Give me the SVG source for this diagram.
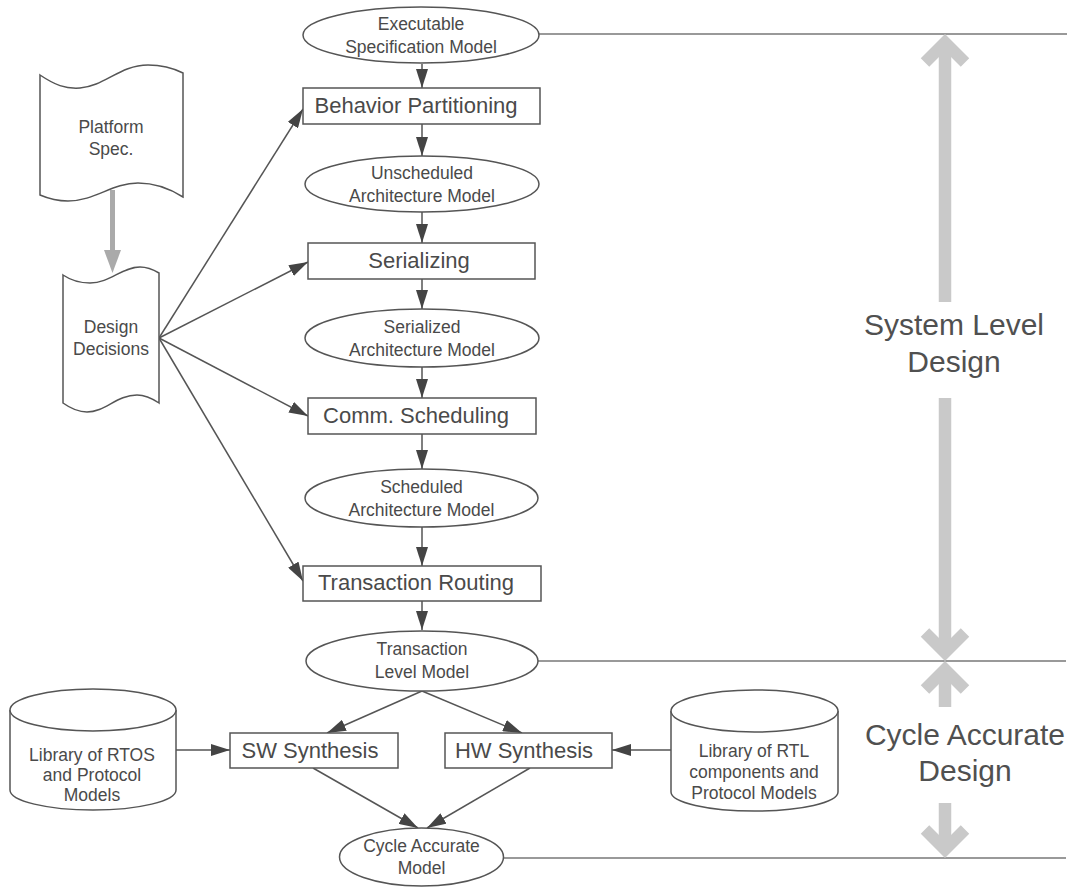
<svg xmlns="http://www.w3.org/2000/svg" width="1076" height="887" viewBox="0 0 1076 887">
  <defs>
    <marker id="ah" markerWidth="19" markerHeight="12" refX="19" refY="6" orient="auto" markerUnits="userSpaceOnUse">
      <path d="M0,0 L19,6 L0,12 z" fill="#444"/>
    </marker>
    <style>
      .shape { fill: #fff; stroke: #555; stroke-width: 1.5; }
      .conn { fill: none; stroke: #555; stroke-width: 1.5; marker-end: url(#ah); }
      .rule { fill: none; stroke: #777; stroke-width: 1.5; }
      .big { fill: none; stroke: #c9c9c9; stroke-width: 12.5; }
      .chev { fill: none; stroke: #c9c9c9; stroke-width: 12; stroke-linejoin: miter; stroke-miterlimit: 4; }
      text { font-family: "Liberation Sans", Arial, sans-serif; fill: #4a4a4a; text-anchor: middle; }
      .et { font-size: 17.5px; }
      .bt { font-size: 22px; }
      .lt { font-size: 30px; fill: #505050; }
    </style>
  </defs>
  <rect width="1076" height="887" fill="#fff"/>

  <!-- level boundary rules -->
  <g id="rules">
    <line class="rule" x1="539" y1="34" x2="1067" y2="34"/>
    <line class="rule" x1="538" y1="661" x2="1066" y2="661"/>
    <line class="rule" x1="503" y1="858" x2="1066" y2="858"/>
  </g>

  <!-- span arrows for the design levels -->
  <g id="span-arrows">
    <line class="big" x1="945" y1="46" x2="945" y2="302"/>
    <polyline class="chev" points="925,62.5 945,42.5 965,62.5"/>
    <line class="big" x1="945" y1="398" x2="945" y2="650"/>
    <polyline class="chev" points="925,632.5 945,652.5 965,632.5"/>
    <line class="big" x1="945" y1="672" x2="945" y2="707"/>
    <polyline class="chev" points="925,689.5 945,669.5 965,689.5"/>
    <line class="big" x1="945" y1="803" x2="945" y2="847"/>
    <polyline class="chev" points="925,829.5 945,849.5 965,829.5"/>
  </g>

  <g id="label-sld">
    <text class="lt" x="954" y="335">System Level</text>
    <text class="lt" x="954" y="372">Design</text>
  </g>
  <g id="label-cad">
    <text class="lt" x="965" y="745">Cycle Accurate</text>
    <text class="lt" x="965" y="781">Design</text>
  </g>

  <!-- connectors -->
  <g id="connectors">
    <line class="conn" x1="422" y1="64" x2="422" y2="88"/>
    <line class="conn" x1="422" y1="124" x2="422" y2="156"/>
    <line class="conn" x1="422" y1="212" x2="422" y2="243"/>
    <line class="conn" x1="422" y1="279" x2="422" y2="309"/>
    <line class="conn" x1="422" y1="367" x2="422" y2="398"/>
    <line class="conn" x1="422" y1="434" x2="422" y2="469"/>
    <line class="conn" x1="422" y1="527" x2="422" y2="566"/>
    <line class="conn" x1="422" y1="601" x2="422" y2="630"/>
    <line class="conn" x1="422" y1="691" x2="327" y2="733"/>
    <line class="conn" x1="422" y1="691" x2="522" y2="733"/>
    <line class="conn" x1="313" y1="768" x2="418" y2="828"/>
    <line class="conn" x1="530" y1="768" x2="427" y2="828"/>
    <line class="conn" x1="176" y1="750" x2="230" y2="750"/>
    <line class="conn" x1="671" y1="750" x2="612" y2="750"/>
    <line class="conn" x1="159" y1="338" x2="303" y2="109"/>
    <line class="conn" x1="159" y1="338" x2="308" y2="262"/>
    <line class="conn" x1="159" y1="338" x2="308" y2="416"/>
    <line class="conn" x1="159" y1="338" x2="303" y2="581"/>
    <!-- platform spec feeds design decisions -->
    <line x1="112.5" y1="190" x2="112.5" y2="252" stroke="#aaa" stroke-width="5"/>
    <path d="M104,250 L121,250 L112.5,273 z" fill="#aaa"/>
  </g>

  <g id="platform-spec">
    <path class="shape" d="M40,75 C55,85 65,89 80,88 C105,86 120,65 148,65 C165,65 175,69 183,73 L183,197 C172,190 158,183 138,183 C112,183 95,201 68,201 C55,201 47,198 40,195 Z"/>
    <text class="et" x="111" y="133">Platform</text>
    <text class="et" x="111" y="155">Spec.</text>
  </g>

  <g id="design-decisions">
    <path class="shape" d="M63,275 C72,281 80,283 90,283 C110,283 122,267 140,267 C148,267 154,270 159,273 L159,403 C153,399 146,395 137,395 C117,395 105,412 87,412 C77,412 70,408 63,403 Z"/>
    <text class="et" x="111" y="333">Design</text>
    <text class="et" x="111" y="355">Decisions</text>
  </g>

  <g id="exec-spec-model">
    <ellipse class="shape" cx="421" cy="35" rx="118" ry="28"/>
    <text class="et" x="421" y="30">Executable</text>
    <text class="et" x="421" y="53">Specification Model</text>
  </g>

  <g id="behavior-partitioning">
    <rect class="shape" x="303" y="88" width="237" height="36"/>
    <text class="bt" x="416" y="113">Behavior Partitioning</text>
  </g>

  <g id="unscheduled-model">
    <ellipse class="shape" cx="422" cy="184" rx="117" ry="28"/>
    <text class="et" x="422" y="179">Unscheduled</text>
    <text class="et" x="422" y="202">Architecture Model</text>
  </g>

  <g id="serializing">
    <rect class="shape" x="308" y="243" width="227" height="36"/>
    <text class="bt" x="419" y="268">Serializing</text>
  </g>

  <g id="serialized-model">
    <ellipse class="shape" cx="422" cy="338" rx="117" ry="29"/>
    <text class="et" x="422" y="333">Serialized</text>
    <text class="et" x="422" y="356">Architecture Model</text>
  </g>

  <g id="comm-scheduling">
    <rect class="shape" x="308" y="398" width="228" height="36"/>
    <text class="bt" x="416" y="423">Comm. Scheduling</text>
  </g>

  <g id="scheduled-model">
    <ellipse class="shape" cx="421.5" cy="498" rx="116.5" ry="29"/>
    <text class="et" x="421.5" y="493">Scheduled</text>
    <text class="et" x="421.5" y="516">Architecture Model</text>
  </g>

  <g id="transaction-routing">
    <rect class="shape" x="303" y="566" width="238" height="35"/>
    <text class="bt" x="416" y="590">Transaction Routing</text>
  </g>

  <g id="transaction-level-model">
    <ellipse class="shape" cx="422" cy="661" rx="116" ry="30"/>
    <text class="et" x="422" y="655">Transaction</text>
    <text class="et" x="422" y="678">Level Model</text>
  </g>

  <g id="rtos-library">
    <path class="shape" d="M10,710 L10,790 A83,20 0 0 0 176,790 L176,710"/>
    <ellipse class="shape" cx="93" cy="710" rx="83" ry="21"/>
    <text class="et" x="92" y="761">Library of RTOS</text>
    <text class="et" x="92" y="781">and Protocol</text>
    <text class="et" x="92" y="801">Models</text>
  </g>

  <g id="sw-synthesis">
    <rect class="shape" x="230" y="733" width="168" height="35"/>
    <text class="bt" x="310" y="758">SW Synthesis</text>
  </g>

  <g id="hw-synthesis">
    <rect class="shape" x="445" y="733" width="167" height="35"/>
    <text class="bt" x="524" y="758">HW Synthesis</text>
  </g>

  <g id="rtl-library">
    <path class="shape" d="M671,711 L671,792 A83.5,19 0 0 0 838,792 L838,711"/>
    <ellipse class="shape" cx="754.5" cy="711" rx="83.5" ry="21"/>
    <text class="et" x="754" y="757">Library of RTL</text>
    <text class="et" x="754" y="778">components and</text>
    <text class="et" x="754" y="799">Protocol Models</text>
  </g>

  <g id="cycle-accurate-model">
    <ellipse class="shape" cx="421.5" cy="857" rx="82" ry="29"/>
    <text class="et" x="421.5" y="852">Cycle Accurate</text>
    <text class="et" x="421.5" y="874">Model</text>
  </g>
</svg>
